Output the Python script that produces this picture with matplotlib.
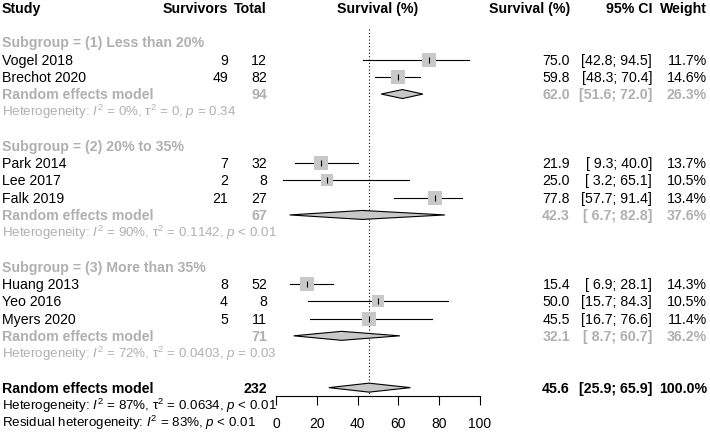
import matplotlib.pyplot as plt
from matplotlib.patches import Polygon

plt.rcParams['font.family'] = ['Liberation Sans', 'DejaVu Sans']
plt.rcParams['mathtext.fontset'] = 'custom'
plt.rcParams['mathtext.rm'] = 'Liberation Sans'
plt.rcParams['mathtext.it'] = 'Liberation Sans:italic'

# study level data
studies = ["Vogel 2018", "Brechot 2020", "Park 2014", "Lee 2017", "Falk 2019",
           "Huang 2013", "Yeo 2016", "Myers 2020"]
study_group = [0, 0, 1, 1, 1, 2, 2, 2]
survivors = [9, 49, 7, 2, 21, 8, 4, 5]
totals = [12, 82, 32, 8, 27, 52, 8, 11]
est = [75.0, 59.8, 21.9, 25.0, 77.8, 15.4, 50.0, 45.5]
lo = [42.8, 48.3, 9.3, 3.2, 57.7, 6.9, 15.7, 16.7]
hi = [94.5, 70.4, 40.0, 65.1, 91.4, 28.1, 84.3, 76.6]
weights = [11.7, 14.6, 13.7, 10.5, 13.4, 14.3, 10.5, 11.4]

# subgroup summaries
sub_labels = ["Subgroup = (1) Less than 20%", "Subgroup = (2) 20% to 35%",
              "Subgroup = (3) More than 35%"]
sub_totals = [94, 67, 71]
sub_est = [62.0, 42.3, 32.1]
sub_lo = [51.6, 6.7, 8.7]
sub_hi = [72.0, 82.8, 60.7]
sub_weights = [26.3, 37.6, 36.2]
sub_i2 = ["0%", "90%", "72%"]
sub_tau2 = ["0", "0.1142", "0.0403"]
sub_p = ["= 0.34", "< 0.01", "= 0.03"]

# overall
overall_total = 232
overall_est, overall_lo, overall_hi = 45.6, 25.9, 65.9
overall_i2, overall_tau2, overall_p = "87%", "0.0634", "< 0.01"
resid_i2, resid_p = "83%", "< 0.01"
xticks = [0, 20, 40, 60, 80, 100]

GREY = '#b0b0b0'
SQ = '#c8c8c8'
FS = 10.2
FS_HET = 9.6

fig = plt.figure(figsize=(7.1, 4.35), dpi=100)
W, H = 710, 435
r0, dr = 8.7, 17.27
ylim = ((H - r0) / dr, -r0 / dr)

ax = fig.add_axes([0, 0, 1, 1])
ax.set_xlim(0, W)
ax.set_ylim(*ylim)
ax.axis('off')

fx = fig.add_axes([276 / W, 0, 204 / W, 1])
fx.set_xlim(0, 100)
fx.set_ylim(*ylim)
fx.patch.set_alpha(0)
for s in ['top', 'left', 'right']:
    fx.spines[s].set_visible(False)
axis_row = (397 - r0) / dr
fx.spines['bottom'].set_position(('data', axis_row))
fx.spines['bottom'].set_linewidth(0.8)
fx.set_yticks([])
fx.set_xticks(xticks)
fx.set_xticklabels([str(t) for t in xticks], fontsize=10)
fx.tick_params(axis='x', direction='out', length=6.5, width=0.8, pad=8)

X_STUDY, X_SURV, X_TOT = 2, 228, 267
X_EST, X_CI, X_W = 570, 652, 707


def txt(x, y, s, ha='left', fs=FS, **kw):
    ax.text(x, y, s, ha=ha, va='center', fontsize=fs, **kw)


def diamond(y, c, l, h):
    d = 0.26
    fx.add_patch(Polygon([(l, y), (c, y - d), (h, y), (c, y + d)], closed=True,
                         facecolor='#c8c8c8', edgecolor='black', lw=0.8, zorder=3))


# header
txt(X_STUDY, 0, "Study", weight='bold')
txt(X_SURV, 0, "Survivors", ha='right', weight='bold')
txt(X_TOT, 0, "Total", ha='right', weight='bold')
txt(378, 0, "Survival (%)", ha='center', weight='bold')
txt(X_EST, 0, "Survival (%)", ha='right', weight='bold')
txt(X_CI, 0, "95% CI", ha='right', weight='bold')
txt(X_W, 0, "Weight", ha='right', weight='bold')

row = 2
for g in range(3):
    txt(X_STUDY, row, sub_labels[g], weight='bold', color=GREY)
    row += 1
    for i in range(len(studies)):
        if study_group[i] != g:
            continue
        txt(X_STUDY, row, studies[i])
        txt(X_SURV, row, str(survivors[i]), ha='right')
        txt(X_TOT, row, str(totals[i]), ha='right')
        txt(X_EST, row, f"{est[i]:.1f}", ha='right')
        txt(X_CI, row, f"[{lo[i]:4.1f}; {hi[i]:4.1f}]", ha='right')
        txt(X_W, row, f"{weights[i]:.1f}%", ha='right')
        fx.plot([lo[i], hi[i]], [row, row], color='black', lw=0.8, zorder=2)
        side = 3.9 * weights[i] ** 0.5 * 0.72
        fx.scatter([est[i]], [row], marker='s', s=side ** 2, color=SQ, lw=0, zorder=3)
        fx.scatter([est[i]], [row], marker='|', s=20, color='black', lw=0.8, zorder=4)
        row += 1
    txt(X_STUDY, row, "Random effects model", weight='bold', color=GREY)
    txt(X_TOT, row, str(sub_totals[g]), ha='right', weight='bold', color=GREY)
    txt(X_EST, row, f"{sub_est[g]:.1f}", ha='right', weight='bold', color=GREY)
    txt(X_CI, row, f"[{sub_lo[g]:4.1f}; {sub_hi[g]:4.1f}]", ha='right', weight='bold', color=GREY)
    txt(X_W, row, f"{sub_weights[g]:.1f}%", ha='right', weight='bold', color=GREY)
    diamond(row, sub_est[g], sub_lo[g], sub_hi[g])
    row += 1
    txt(X_STUDY, row, "Heterogeneity: $I^2$ = " + sub_i2[g] + ", τ$^2$ = " + sub_tau2[g]
        + ", $p$ " + sub_p[g], fs=FS_HET, color=GREY)
    row += 2

txt(X_STUDY, row, "Random effects model", weight='bold')
txt(X_TOT, row, str(overall_total), ha='right', weight='bold')
txt(X_EST, row, f"{overall_est:.1f}", ha='right', weight='bold')
txt(X_CI, row, f"[{overall_lo:4.1f}; {overall_hi:4.1f}]", ha='right', weight='bold')
txt(X_W, row, "100.0%", ha='right', weight='bold')
diamond(row, overall_est, overall_lo, overall_hi)
fx.plot([overall_est, overall_est], [1.23, axis_row], color='black', lw=0.8,
        ls=(0, (1, 2)), zorder=1)
row += 1
txt(X_STUDY, row, "Heterogeneity: $I^2$ = " + overall_i2 + ", τ$^2$ = " + overall_tau2
    + ", $p$ " + overall_p, fs=FS_HET)
row += 1
txt(X_STUDY, row, "Residual heterogeneity: $I^2$ = " + resid_i2 + ", $p$ " + resid_p,
    fs=FS_HET)

fig.savefig("out.png", dpi=100)
